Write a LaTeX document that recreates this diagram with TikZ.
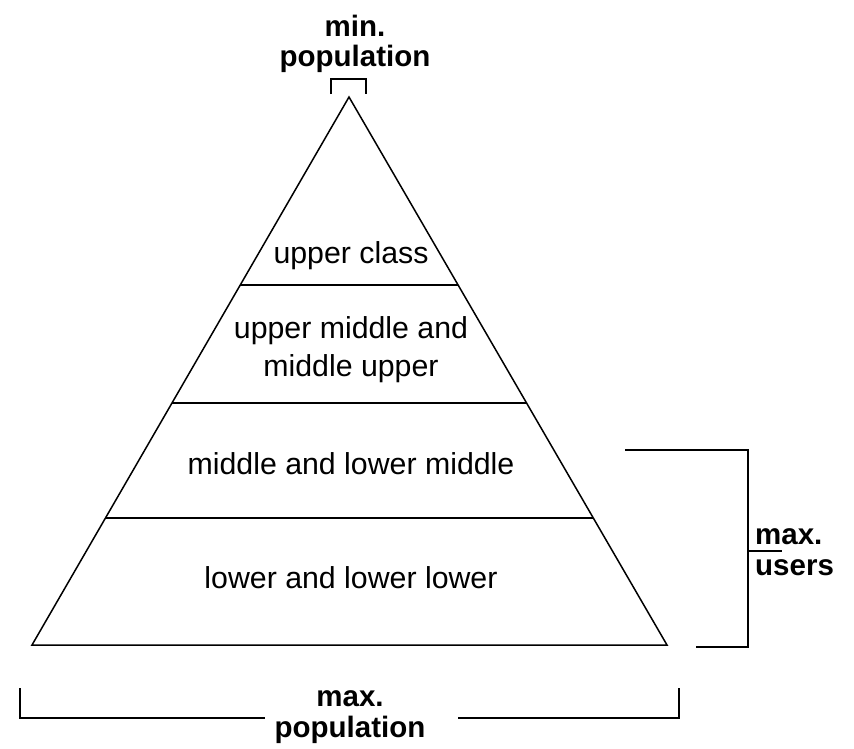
\documentclass[tikz,border=0pt]{standalone}
\usepackage{fontspec}
\setmainfont{Liberation Sans}
\usetikzlibrary{calc}
\begin{document}
\begin{tikzpicture}[x=1pt,y=-1pt,
  edge/.style={line width=1.5pt,black},
  lbl/.style={font=\fontsize{30.3}{38}\selectfont,align=center,inner sep=0pt},
  blbl/.style={font=\bfseries\fontsize{29.5}{30.5}\selectfont,align=center,inner sep=0pt}]
\useasboundingbox (0,0) rectangle (854,748);
% triangle
\coordinate (apex) at (349,97);
\coordinate (bl) at (32,645);
\coordinate (br) at (667,645);
\draw[edge,line join=miter] (apex) -- (bl) -- (br) -- cycle;
% layer lines
\coordinate (l1a) at ($(apex)!0.3431!(bl)$);
\coordinate (l1b) at ($(apex)!0.3431!(br)$);
\coordinate (l2a) at ($(apex)!0.5584!(bl)$);
\coordinate (l2b) at ($(apex)!0.5584!(br)$);
\coordinate (l3a) at ($(apex)!0.7682!(bl)$);
\coordinate (l3b) at ($(apex)!0.7682!(br)$);
\draw[edge] (l1a) -- (l1b);
\draw[edge] (l2a) -- (l2b);
\draw[edge] (l3a) -- (l3b);
% layer labels
\node[lbl] (upper) at (351,256) {upper class};
\node[lbl] (uppermid) at (351,350) {upper middle and\\middle upper};
\node[lbl] (midlow) at (351,464) {middle and lower middle};
\node[lbl] (lower) at (351,578) {lower and lower lower};
% top bracket
\node[blbl] (minpop) at (355,44) {min.\\population};
\coordinate (tb1) at (331,94);
\coordinate (tb2) at (331,79);
\coordinate (tb3) at (366,79);
\coordinate (tb4) at (366,94);
\draw[edge] (tb1) -- (tb2) -- (tb3) -- (tb4);
% right bracket
\node[blbl,anchor=west,align=left] (maxusers) at (755,552) {max.\\users};
\coordinate (rb1) at (625,450);
\coordinate (rb2) at (748,450);
\coordinate (rb3) at (748,647);
\coordinate (rb4) at (696,647);
\coordinate (rbm) at (748,551);
\coordinate (rbt) at (782,551);
\draw[edge] (rb1) -- (rb2) -- (rb3) -- (rb4);
\draw[edge] (rbm) -- (rbt);
% bottom bracket
\node[blbl] (maxpop) at (350,717) {max.\\population};
\coordinate (bb1) at (20,688);
\coordinate (bb2) at (20,718);
\coordinate (bb3) at (265,718);
\coordinate (bb4) at (458,718);
\coordinate (bb5) at (679,718);
\coordinate (bb6) at (679,688);
\draw[edge] (bb1) -- (bb2) -- (bb3);
\draw[edge] (bb4) -- (bb5) -- (bb6);
\end{tikzpicture}
\end{document}
